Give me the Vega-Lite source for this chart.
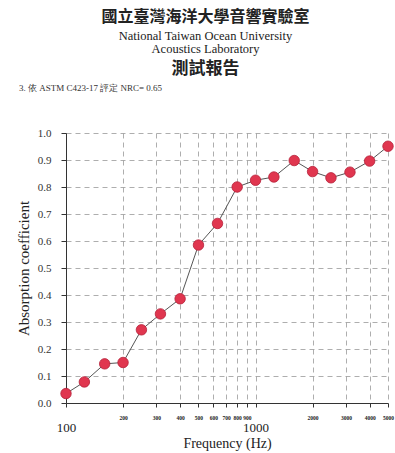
{
  "$schema": "https://vega.github.io/schema/vega-lite/v6.json",
  "padding": {"left": 16, "right": 2, "top": 8, "bottom": 2},
  "background": "white",
  "title": {
    "text": "國立臺灣海洋大學音響實驗室",
    "subtitle": ["National Taiwan Ocean University", "Acoustics Laboratory"],
    "font": "Noto Sans CJK TC", "fontSize": 16, "fontWeight": "bold", "color": "#222",
    "subtitleFont": "Liberation Serif", "subtitleFontSize": 12.5, "subtitleColor": "#222",
    "subtitleLineHeight": 13, "subtitlePadding": 5, "anchor": "middle", "offset": 5
  },
  "config": {
    "view": {"stroke": null},
    "axis": {"gridDash": [5, 4], "gridColor": "#999", "gridWidth": 0.8, "domainColor": "#333", "tickColor": "#333"}
  },
  "vconcat": [
    {
      "title": {"text": "測試報告", "font": "Noto Sans CJK TC", "fontSize": 17, "fontWeight": "bold", "color": "#222", "anchor": "middle", "offset": 6},
      "vconcat": [
        {
          "title": {"text": "3. 依 ASTM C423-17 評定 NRC= 0.65", "font": "Liberation Serif", "fontSize": 9, "fontWeight": "normal", "color": "#333", "anchor": "start", "frame": "group", "offset": 34, "dx": -47},
          "width": 322,
          "height": 270,
          "data": {"values": [
            {"f": 100, "a": 0.035},
            {"f": 125, "a": 0.078},
            {"f": 160, "a": 0.145},
            {"f": 200, "a": 0.15},
            {"f": 250, "a": 0.271},
            {"f": 315, "a": 0.33},
            {"f": 400, "a": 0.386},
            {"f": 500, "a": 0.585},
            {"f": 630, "a": 0.665},
            {"f": 800, "a": 0.80},
            {"f": 1000, "a": 0.825},
            {"f": 1250, "a": 0.837},
            {"f": 1600, "a": 0.898},
            {"f": 2000, "a": 0.857},
            {"f": 2500, "a": 0.834},
            {"f": 3150, "a": 0.855},
            {"f": 4000, "a": 0.896},
            {"f": 5000, "a": 0.951}
          ]},
          "encoding": {
            "x": {
              "field": "f", "type": "quantitative",
              "scale": {"type": "log", "domain": [100, 5000], "nice": false},
              "axis": {
                "title": "Frequency (Hz)", "titleFont": "Liberation Serif", "titleFontSize": 14, "titleFontWeight": "normal", "titleColor": "#222", "titlePadding": 2,
                "values": [100, 200, 300, 400, 500, 600, 700, 800, 900, 1000, 2000, 3000, 4000, 5000],
                "format": "d",
                "labelFont": "Liberation Serif",
                "labelFontSize": {"condition": {"test": "datum.value == 100 || datum.value == 1000", "value": 13}, "value": 5.5},
                "labelFontWeight": {"condition": {"test": "datum.value == 100 || datum.value == 1000", "value": "normal"}, "value": "bold"},
                "labelPadding": {"condition": {"test": "datum.value == 100 || datum.value == 1000", "value": 14}, "value": 8},
                "labelColor": "#222", "labelOverlap": false, "labelFlush": false, "labelBound": false,
                "tickSize": 4, "labelAngle": 0
              }
            },
            "y": {
              "field": "a", "type": "quantitative",
              "scale": {"domain": [0, 1], "nice": false},
              "axis": {
                "title": "Absorption  coefficient", "titleFont": "Liberation Serif", "titleFontSize": 15, "titleFontWeight": "normal", "titleColor": "#222", "titlePadding": 6,
                "values": [0, 0.1, 0.2, 0.3, 0.4, 0.5, 0.6, 0.7, 0.8, 0.9, 1.0],
                "format": ".1f", "labelFont": "Liberation Serif", "labelFontSize": 11, "labelColor": "#333",
                "tickSize": 5, "labelPadding": 10
              }
            }
          },
          "layer": [
            {"mark": {"type": "line", "color": "#555", "strokeWidth": 1}},
            {"mark": {"type": "point", "filled": true, "size": 110, "color": "#e0364f", "stroke": "#b5213a", "strokeWidth": 0.8, "opacity": 1}}
          ]
        }
      ]
    }
  ]
}
